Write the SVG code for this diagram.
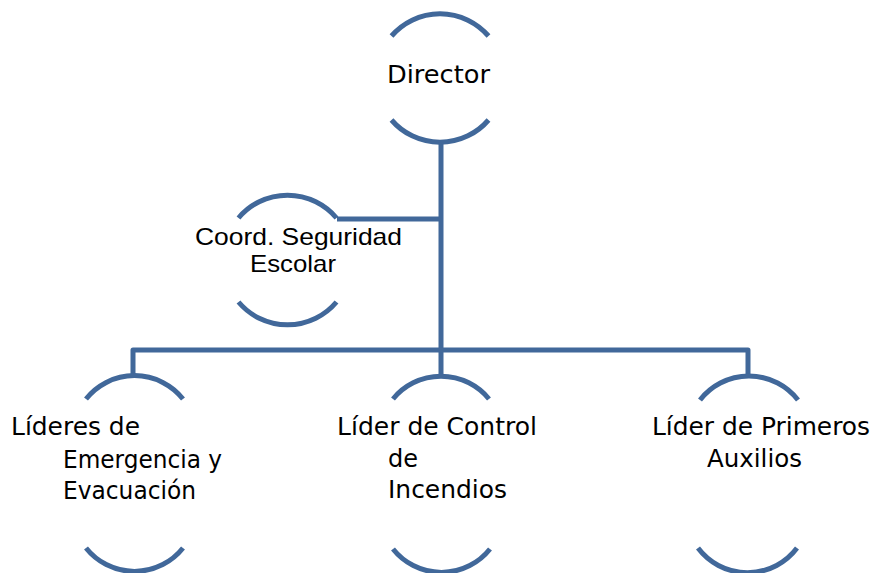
<svg xmlns="http://www.w3.org/2000/svg" width="874" height="573" viewBox="0 0 874 573">
<style>
.arc{fill:none;stroke:#41689a;stroke-width:5}
.conn{fill:none;stroke:#41689a;stroke-width:5;stroke-linejoin:round}
.t{font-family:"DejaVu Sans","Open Sans",sans-serif;font-size:24px;fill:#000}
.a{font-family:"Liberation Sans",Arial,sans-serif;font-size:24px;fill:#000}
</style>
<rect width="874" height="573" fill="#fff"/>
<g id="connectors">
<path class="conn" d="M441 142 V375"/>
<path class="conn" d="M337 219 H441"/>
<path class="conn" d="M133 375 V350 H748 V375"/>
</g>
<g id="director">
<path class="arc" d="M391.5 36 A64 64 0 0 1 488.5 36"/>
<path class="arc" d="M391.5 120 A64 64 0 0 0 488.5 120"/>
<text class="t" x="387" y="83" textLength="103" lengthAdjust="spacingAndGlyphs">Director</text>
</g>
<g id="coord">
<path class="arc" d="M238.5 218 A64 64 0 0 1 336.5 218"/>
<path class="arc" d="M238.5 302 A64 64 0 0 0 336.5 302"/>
<text class="a" x="195" y="245" textLength="207" lengthAdjust="spacingAndGlyphs">Coord. Seguridad</text>
<text class="a" x="250" y="272" textLength="86" lengthAdjust="spacingAndGlyphs">Escolar</text>
</g>
<g id="emergencia">
<path class="arc" d="M86 399 A62 62 0 0 1 183 399"/>
<path class="arc" d="M86 548 A62 62 0 0 0 183 548"/>
<text class="t" x="11" y="435" textLength="129" lengthAdjust="spacingAndGlyphs">Líderes de</text>
<text class="t" x="63" y="468" textLength="159" lengthAdjust="spacingAndGlyphs">Emergencia y</text>
<text class="t" x="63" y="499" textLength="133" lengthAdjust="spacingAndGlyphs">Evacuación</text>
</g>
<g id="incendios">
<path class="arc" d="M393 399 A62 62 0 0 1 489 399"/>
<path class="arc" d="M393 549 A62 62 0 0 0 490 549"/>
<text class="t" x="337" y="435" textLength="200" lengthAdjust="spacingAndGlyphs">Líder de Control</text>
<text class="t" x="388" y="467" textLength="30" lengthAdjust="spacingAndGlyphs">de</text>
<text class="t" x="388" y="498" textLength="119" lengthAdjust="spacingAndGlyphs">Incendios</text>
</g>
<g id="auxilios">
<path class="arc" d="M700 400 A62 62 0 0 1 798 400"/>
<path class="arc" d="M698 548 A62 62 0 0 0 797 548"/>
<text class="t" x="652" y="435" textLength="218" lengthAdjust="spacingAndGlyphs">Líder de Primeros</text>
<text class="t" x="707" y="467" textLength="95" lengthAdjust="spacingAndGlyphs">Auxilios</text>
</g>
</svg>
